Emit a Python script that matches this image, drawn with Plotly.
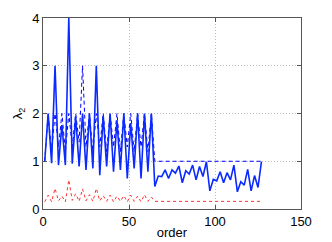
import plotly.graph_objects as go

order = [1, 3, 5, 7, 9, 11, 13, 15, 17, 19, 21, 23, 25, 27, 29, 31,
         33, 35, 37, 39, 41, 43, 45, 47, 49, 51, 53, 55, 57, 59, 61, 63,
         65, 67, 69, 71, 73, 75, 77, 79, 81, 83, 85, 87, 89, 91, 93, 95,
         97, 99, 101, 103, 105, 107, 109, 111, 113, 115, 117, 119, 121, 123, 125, 127]

lam_solid = [1.00, 2.00, 0.96, 3.00, 0.92, 1.76, 0.92, 4.00, 0.95, 1.93, 0.89, 2.00, 0.82, 2.00, 0.85, 3.00,
             0.71, 1.95, 0.89, 2.00, 0.78, 1.85, 0.82, 2.00, 0.64, 1.80, 0.85, 2.00, 0.64, 2.00, 0.78, 2.00,
             0.47, 0.69, 0.68, 0.82, 0.64, 0.82, 0.75, 0.90, 0.55, 0.80, 0.73, 0.92, 0.61, 0.89, 0.68, 0.99,
             0.38, 0.62, 0.59, 0.78, 0.55, 0.76, 0.61, 0.92, 0.36, 0.57, 0.50, 0.83, 0.38, 0.70, 0.45, 0.99]

lam_dashed = [1.0, 2.0, 1.2, 2.0, 1.3, 2.0, 1.2, 2.0, 1.3, 2.0, 1.4, 3.0, 1.3, 2.0, 1.2, 2.0,
              1.3, 2.0, 1.2, 2.0, 1.3, 2.0, 1.2, 2.0, 1.3, 2.0, 1.2, 2.0, 1.3, 2.0, 1.2, 2.0,
              1.0, 1.0, 1.0, 1.0, 1.0, 1.0, 1.0, 1.0, 1.0, 1.0, 1.0, 1.0, 1.0, 1.0, 1.0, 1.0,
              1.0, 1.0, 1.0, 1.0, 1.0, 1.0, 1.0, 1.0, 1.0, 1.0, 1.0, 1.0, 1.0, 1.0, 1.0, 1.0]

lam_red = [0.15, 0.29, 0.15, 0.43, 0.17, 0.27, 0.15, 0.61, 0.18, 0.32, 0.16, 0.42, 0.17, 0.30, 0.16, 0.43,
           0.17, 0.28, 0.16, 0.29, 0.15, 0.27, 0.16, 0.28, 0.15, 0.29, 0.16, 0.27, 0.15, 0.30, 0.16, 0.25,
           0.16, 0.16, 0.16, 0.16, 0.16, 0.16, 0.16, 0.16, 0.16, 0.16, 0.16, 0.16, 0.16, 0.16, 0.16, 0.16,
           0.16, 0.16, 0.16, 0.16, 0.16, 0.16, 0.16, 0.16, 0.16, 0.16, 0.16, 0.16, 0.16, 0.16, 0.16, 0.16]

x_ticks = [0, 50, 100, 150]
y_ticks = [0, 1, 2, 3, 4]

fig = go.Figure()
fig.add_trace(go.Scatter(x=order, y=lam_red, mode="lines",
                         line=dict(color="#ff3030", width=1, dash="3px,3px")))
fig.add_trace(go.Scatter(x=order, y=lam_dashed, mode="lines",
                         line=dict(color="#0000ff", width=1, dash="4px,3px")))
fig.add_trace(go.Scatter(x=order, y=lam_solid, mode="lines",
                         line=dict(color="#0a2aff", width=1.6)))

axis_common = dict(
    showline=True, linecolor="#555555", linewidth=1, mirror="ticks",
    ticks="inside", ticklen=4, tickcolor="#555555",
    showgrid=True, gridcolor="#bdbdbd", griddash="1px,2px", gridwidth=1,
    zeroline=False, tickfont=dict(size=13, color="black"), automargin=False,
)

# page body has an 8px margin, so the figure is sized to fit the window
fig.update_layout(
    width=324, height=234,
    margin=dict(l=35, r=31, t=10, b=33),
    paper_bgcolor="white", plot_bgcolor="white",
    showlegend=False,
    font=dict(family="Liberation Sans, Arial, sans-serif", size=13, color="black"),
    xaxis=dict(range=[0, 150], tickvals=x_ticks,
               title=dict(text="order", standoff=0, font=dict(size=13)), **axis_common),
    yaxis=dict(range=[0, 4], tickvals=y_ticks,
               title=dict(text="λ<sub>2</sub>", standoff=6, font=dict(size=13)), **axis_common),
)

fig.write_html("out.html")
